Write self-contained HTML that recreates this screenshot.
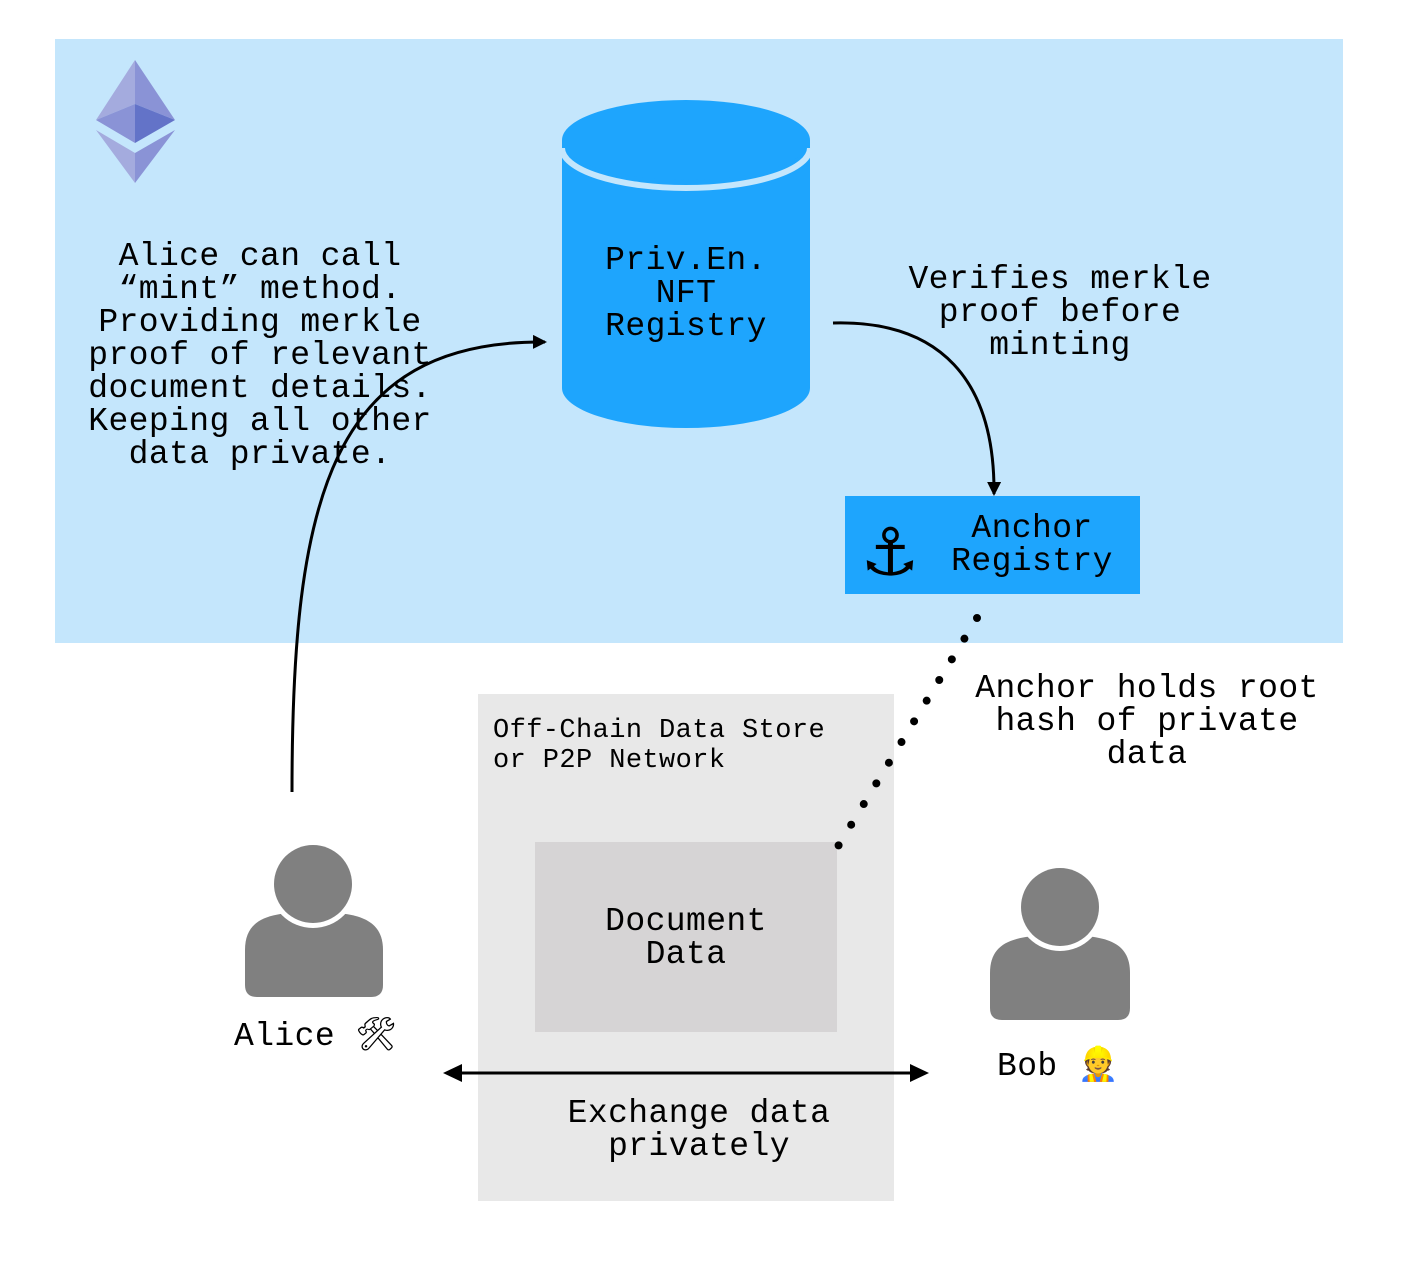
<!DOCTYPE html>
<html><head><meta charset="utf-8"><style>
html,body{margin:0;padding:0;background:#fff;}
svg{display:block;}
text{font-family:"Liberation Mono","DejaVu Sans Mono",monospace;fill:#000;letter-spacing:0.4px;}
</style></head><body>
<svg width="1414" height="1274" viewBox="0 0 1414 1274" xmlns="http://www.w3.org/2000/svg">
<defs>
<marker id="ah" markerWidth="14" markerHeight="14" refX="12" refY="7" orient="auto" markerUnits="userSpaceOnUse" viewBox="0 0 14 14"><path d="M0,0 L14,7 L0,14 z" fill="#000"/></marker>
</defs>
<rect x="55" y="39" width="1288" height="604" fill="#c4e6fc"/>
<polygon points="135,60 96,120 135,104" fill="#a4abde"/>
<polygon points="135,60 175,120 135,104" fill="#8a93d6"/>
<polygon points="96,120 135,104 135,143" fill="#8a93d6"/>
<polygon points="175,120 135,104 135,143" fill="#6373c8"/>
<polygon points="96,130 135,153 135,183" fill="#a4abde"/>
<polygon points="175,130 135,153 135,183" fill="#8a93d6"/>
<path d="M562,140 L562,388 A124,40 0 0 0 810,388 L810,140 Z" fill="#1ea5fd"/>
<ellipse cx="686" cy="140" rx="124" ry="40" fill="#1ea5fd"/>
<path d="M562,148 A124,40 0 0 0 810,148" fill="none" stroke="#c4e6fc" stroke-width="6"/>
<text font-size="33" text-anchor="middle"><tspan x="686" y="269">Priv.En.</tspan><tspan x="686" y="302">NFT</tspan><tspan x="686" y="335">Registry</tspan></text>
<text font-size="33" text-anchor="middle"><tspan x="260" y="265">Alice can call</tspan><tspan x="260" y="298">“mint” method.</tspan><tspan x="260" y="331">Providing merkle</tspan><tspan x="260" y="364">proof of relevant</tspan><tspan x="260" y="397">document details.</tspan><tspan x="260" y="430">Keeping all other</tspan><tspan x="260" y="463">data private.</tspan></text>
<text font-size="33" text-anchor="middle"><tspan x="1060" y="288">Verifies merkle</tspan><tspan x="1060" y="321">proof before</tspan><tspan x="1060" y="354">minting</tspan></text>
<rect x="845" y="496" width="295" height="98" fill="#1ea5fd"/>
<text x="890" y="575" font-size="66" text-anchor="middle" style="font-family:'DejaVu Sans',sans-serif;letter-spacing:0">⚓</text>
<text font-size="33" text-anchor="middle"><tspan x="1032" y="537">Anchor</tspan><tspan x="1032" y="570">Registry</tspan></text>
<path d="M833,323 C940,320 995,380 994,494" fill="none" stroke="#000" stroke-width="3" marker-end="url(#ah)"/>
<path d="M292,792 C292,500 330,340 545,342" fill="none" stroke="#000" stroke-width="3" marker-end="url(#ah)"/>
<rect x="478" y="694" width="416" height="507" fill="#e8e8e8"/>
<text font-size="27"><tspan x="493" y="737">Off-Chain Data Store</tspan><tspan x="493" y="767">or P2P Network</tspan></text>
<rect x="535" y="842" width="302" height="190" fill="#d6d4d5"/>
<text font-size="33" text-anchor="middle"><tspan x="686" y="930">Document</tspan><tspan x="686" y="963">Data</tspan></text>
<line x1="977" y1="618" x2="837" y2="848" stroke="#000" stroke-width="8" stroke-linecap="round" stroke-dasharray="0 24.2"/>
<text font-size="33" text-anchor="middle"><tspan x="1147" y="697">Anchor holds root</tspan><tspan x="1147" y="730">hash of private</tspan><tspan x="1147" y="763">data</tspan></text>
<g fill="#808080">
<path d="M245,985 L245,950 C245,918 270,912 313,912 C356,912 383,918 383,950 L383,985 Q383,997 371,997 L257,997 Q245,997 245,985 Z"/>
<circle cx="313" cy="884" r="44" fill="#fff"/>
<circle cx="313" cy="884" r="39"/>
<path d="M990,1008 L990,973 C990,941 1015,935 1060,935 C1105,935 1130,941 1130,973 L1130,1008 Q1130,1020 1118,1020 L1002,1020 Q990,1020 990,1008 Z"/>
<circle cx="1060" cy="907" r="44" fill="#fff"/>
<circle cx="1060" cy="907" r="39"/>
</g>
<text x="234" y="1045" font-size="33">Alice 🛠</text>
<text x="997" y="1075" font-size="33">Bob 👷</text>
<line x1="460" y1="1073" x2="912" y2="1073" stroke="#000" stroke-width="3"/>
<polygon points="443,1073 462,1064 462,1082" fill="#000"/>
<polygon points="929,1073 910,1064 910,1082" fill="#000"/>
<text font-size="33" text-anchor="middle"><tspan x="699" y="1122">Exchange data</tspan><tspan x="699" y="1155">privately</tspan></text>
</svg>
</body></html>
